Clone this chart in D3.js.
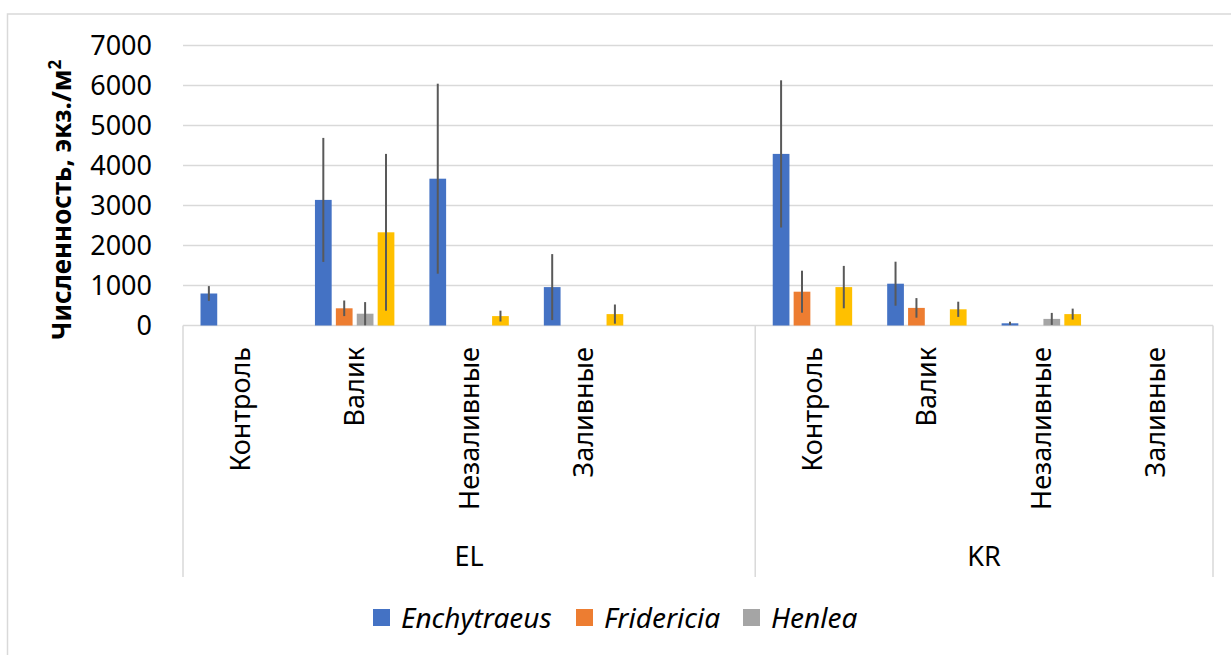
<!DOCTYPE html>
<html>
<head>
<meta charset="utf-8">
<script src="https://cdn.jsdelivr.net/npm/d3@7"></script>
<style>
  html, body { margin: 0; padding: 0; background: #fff; }
  svg { display: block; }
  text { font-family: "Noto Sans", "Open Sans", sans-serif; fill: #000; }
</style>
</head>
<body>
<svg id="chart" width="1231" height="655"></svg>
<script>
// Sites and treatments (the empty slot keeps spacing after the EL block)
const groupNames = ["EL", "KR"];
const categoryGroup = ["EL", "EL", "EL", "EL", "EL", "KR", "KR", "KR", "KR"];
const categoryNames = ["Контроль", "Валик", "Незаливные", "Заливные", "", "Контроль", "Валик", "Незаливные", "Заливные"];

// Mean abundance, ind./m², and error bar half-widths
const enchytraeus    = [800, 3140, 3670, 960, null, 4290, 1045, 55, 0];
const enchytraeusErr = [185, 1550, 2375, 825, null, 1840, 550, 40, 0];
const fridericia     = [0, 430, 0, 0, null, 845, 440, 0, 0];
const fridericiaErr  = [0, 195, 0, 0, null, 525, 245, 0, 0];
const henlea         = [0, 295, 0, 0, null, 0, 0, 165, 0];
const henleaErr      = [0, 290, 0, 0, null, 0, 0, 150, 0];
const others         = [0, 2330, 235, 285, null, 960, 405, 285, 0];
const othersErr      = [0, 1960, 135, 240, null, 530, 190, 137, 0];

const seriesNames  = ["Enchytraeus", "Fridericia", "Henlea", "Прочие"];
const seriesValues = [enchytraeus, fridericia, henlea, others];
const seriesErrors = [enchytraeusErr, fridericiaErr, henleaErr, othersErr];
const seriesColors = ["#4472C4", "#ED7D31", "#A5A5A5", "#FFC000"];
const legendSeries = ["Enchytraeus", "Fridericia", "Henlea"];

const yTicks = [0, 1000, 2000, 3000, 4000, 5000, 6000, 7000];
const yTitle = "Численность, экз./м";

const svg = d3.select("#chart");
const grid = "#d9d9d9";

const plot = { left: 183, right: 1213, top: 45.5, bottom: 325.5, axisBottom: 577 };

// outer chart frame
svg.append("rect")
  .attr("x", 7.5).attr("y", 14).attr("width", 1260).attr("height", 700)
  .attr("fill", "none").attr("stroke", grid).attr("stroke-width", 1.5);

const idx = d3.range(categoryNames.length);
const x0 = d3.scaleBand().domain(idx).range([plot.left, plot.right]).padding(0);
const inset = x0.bandwidth() * 0.153;
const x1 = d3.scaleBand().domain(d3.range(seriesNames.length))
  .range([inset, x0.bandwidth() - inset]).paddingInner(0.2).paddingOuter(0);
const y = d3.scaleLinear().domain([0, 7000]).range([plot.bottom, plot.top]);

// horizontal gridlines
svg.append("g").selectAll("line").data(yTicks).join("line")
  .attr("x1", plot.left).attr("x2", plot.right)
  .attr("y1", d => y(d)).attr("y2", d => y(d))
  .attr("stroke", grid).attr("stroke-width", 1.5);

// value axis labels
const yAxis = d3.axisLeft(y).tickValues(yTicks).tickFormat(d3.format("d")).tickSize(0).tickPadding(0);
const yg = svg.append("g").attr("transform", "translate(152,0)").call(yAxis);
yg.select(".domain").remove();
yg.selectAll("text").attr("font-size", 27).attr("font-family", "Noto Sans").attr("fill", "#000").attr("dy", "0.35em").attr("x", 0);

// bars
const barLayer = svg.append("g");
seriesNames.forEach((name, s) => {
  const rows = idx.filter(i => seriesValues[s][i] != null && seriesValues[s][i] > 0);
  barLayer.append("g").selectAll("rect").data(rows).join("rect")
    .attr("x", i => x0(i) + x1(s))
    .attr("width", x1.bandwidth())
    .attr("y", i => y(seriesValues[s][i]))
    .attr("height", i => y(0) - y(seriesValues[s][i]))
    .attr("fill", seriesColors[s]);
});

// error bars
const errLayer = svg.append("g");
seriesNames.forEach((name, s) => {
  const rows = idx.filter(i => seriesErrors[s][i] != null && seriesErrors[s][i] > 0);
  errLayer.append("g").selectAll("line").data(rows).join("line")
    .attr("x1", i => x0(i) + x1(s) + x1.bandwidth() / 2)
    .attr("x2", i => x0(i) + x1(s) + x1.bandwidth() / 2)
    .attr("y1", i => y(seriesValues[s][i] + seriesErrors[s][i]))
    .attr("y2", i => y(Math.max(0, seriesValues[s][i] - seriesErrors[s][i])))
    .attr("stroke", "#595959").attr("stroke-width", 2);
});

// category axis: dividers between site groups
const groupBounds = groupNames.map(g => {
  const members = idx.filter(i => categoryGroup[i] === g);
  return { name: g, x0: x0(members[0]), x1: x0(members[members.length - 1]) + x0.bandwidth() };
});
const dividers = [plot.left, ...groupBounds.map(g => g.x1)];
svg.append("g").selectAll("line").data(dividers).join("line")
  .attr("x1", d => d).attr("x2", d => d)
  .attr("y1", plot.bottom).attr("y2", plot.axisBottom)
  .attr("stroke", grid).attr("stroke-width", 1.5);

// treatment labels, rotated
svg.append("g").selectAll("text").data(idx.filter(i => categoryNames[i])).join("text")
  .attr("transform", i => `translate(${x0(i) + x0.bandwidth() / 2},347) rotate(-90)`)
  .attr("text-anchor", "end").attr("dy", "0.35em")
  .attr("font-size", 27)
  .text(i => categoryNames[i]);

// site labels
svg.append("g").selectAll("text").data(groupBounds).join("text")
  .attr("x", d => (d.x0 + d.x1) / 2).attr("y", 557)
  .attr("text-anchor", "middle").attr("dy", "0.35em")
  .attr("font-size", 27)
  .text(d => d.name);

// value axis title
const title = svg.append("text")
  .attr("transform", "translate(62,200) rotate(-90)")
  .attr("text-anchor", "middle").attr("dy", "0.35em")
  .attr("font-size", 26).attr("font-weight", "bold");
title.append("tspan").text(yTitle);
title.append("tspan").attr("font-size", 17).attr("dy", "-0.6em").text("2");

// legend
const legend = svg.append("g");
const legendX = [373, 576, 743];
legendSeries.forEach((name, k) => {
  const s = seriesNames.indexOf(name);
  legend.append("rect").attr("x", legendX[k]).attr("y", 609).attr("width", 17).attr("height", 17)
    .attr("fill", seriesColors[s]);
  legend.append("text").attr("x", legendX[k] + 28).attr("y", 618).attr("dy", "0.35em")
    .attr("font-size", 28).attr("font-style", "italic").text(name);
});
</script>
</body>
</html>
